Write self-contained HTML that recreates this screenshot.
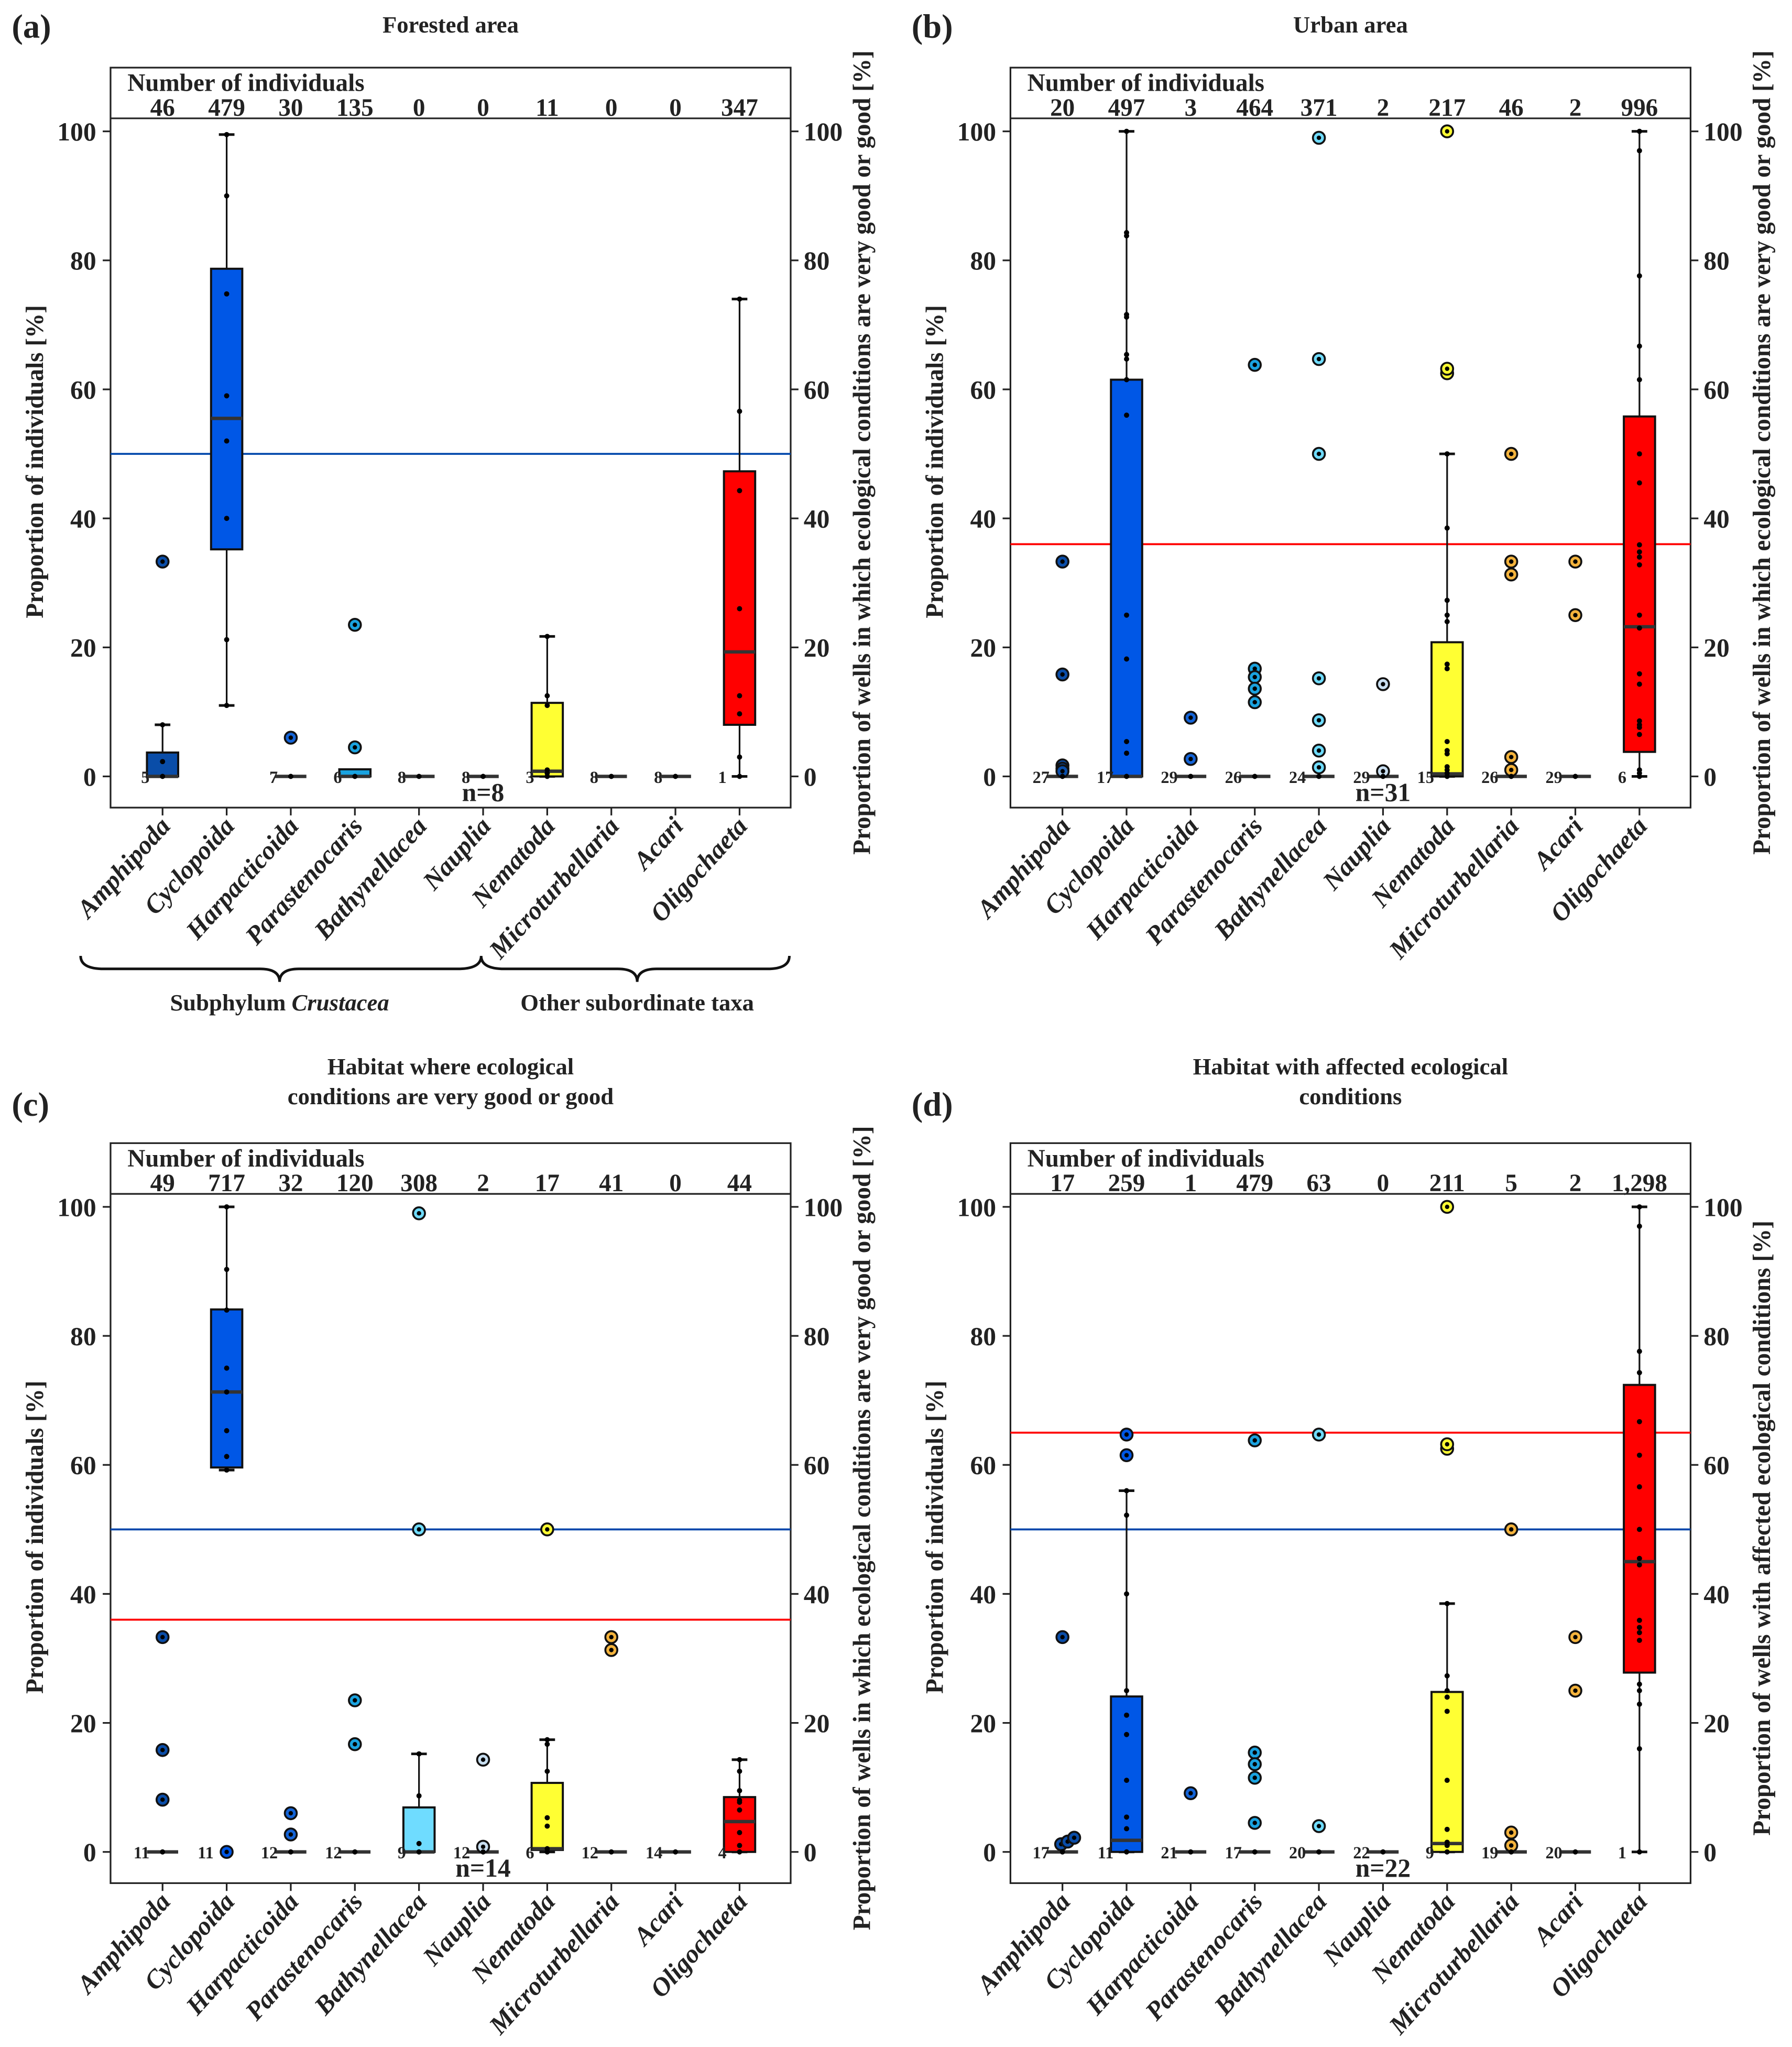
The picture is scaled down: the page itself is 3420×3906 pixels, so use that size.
<!DOCTYPE html>
<html><head><meta charset="utf-8"><style>
html,body{margin:0;padding:0;background:#fff}
svg{display:block}
text{font-family:"Liberation Serif","Times New Roman",serif;font-weight:bold;fill:#222}
</style></head><body>
<svg id="fig" xmlns="http://www.w3.org/2000/svg" width="3420" height="3906" viewBox="0 0 1378 1574" preserveAspectRatio="none"></svg>
<script>
const categories=["Amphipoda","Cyclopoida","Harpacticoida","Parastenocaris","Bathynellacea","Nauplia","Nematoda","Microturbellaria","Acari","Oligochaeta"];
const colors=["#0a4da8","#0057e6","#1464d8","#1aa3e0","#6fdcff","#c8def0","#ffff33","#f4b33c","#f4b33c","#ff0000"];
const yTicks=[0,20,40,60,80,100];

// Panel A: Forested area
const countsA=["46","479","30","135","0","0","11","0","0","347"];
const q1A=[0,35.2,0,0,0,0,0,0,0,8];
const medA=[0,55.5,0,0,0,0,0.8,0,0,19.3];
const q3A=[3.7,78.7,0,1.1,0,0,11.4,0,0,47.3];
const loA=[0,11,0,0,0,0,0,0,0,0];
const hiA=[8,99.5,0,0,0,0,21.7,0,0,74];
const dotsA=[[0,2.3,8],[11,21.2,40,52,59,74.8,90,99.5],[0],[0],[0],[0],[0,0.5,1,11,12.5,21.7],[0],[0],[0,3,9.7,12.5,26,44.3,56.6,74]];
const outA=[[33.3],[],[6],[4.5,23.5],[],[],[],[],[],[]];
const zeroA=["5","","7","6","8","8","3","8","8","1"];
const linesA=[{v:50,c:"#0047ab"}];

// Panel B: Urban area
const countsB=["20","497","3","464","371","2","217","46","2","996"];
const q1B=[0,0,0,0,0,0,0,0,0,3.8];
const medB=[0,0,0,0,0,0,0.4,0,0,23.2];
const q3B=[0,61.5,0,0,0,0,20.8,0,0,55.8];
const loB=[0,0,0,0,0,0,0,0,0,0];
const hiB=[0,100,0,0,0,0,50,0,0,100];
const dotsB=[[0],[0,3.6,5.4,18.2,25,56,61.5,64.7,65.4,71.2,71.6,83.8,84.3,100],[0],[0],[0],[0],[0,0.5,1,1.5,3.5,4,5.4,16.7,17.4,24,25,27.3,38.5,50],[0],[0],[0,0.5,1,6.5,7.6,8,8.6,14.3,15.9,23,25,32.8,34,34.8,35.9,45.5,50,61.5,66.7,77.6,97,100]];
const outB=[[33.3,15.8,1.7,1.2,0.8],[],[9.1,2.7],[63.8,16.7,15.4,13.6,11.5],[99,64.7,50,15.2,8.7,4,1.4],[14.3,0.8],[62.5,63.2,100],[50,33.3,31.3,3,1],[33.3,25],[]];
const zeroB=["27","17","29","26","24","29","15","26","29","6"];
const linesB=[{v:36,c:"#ff0000"}];

// Panel C: very good / good
const countsC=["49","717","32","120","308","2","17","41","0","44"];
const q1C=[0,59.6,0,0,0,0,0.3,0,0,0];
const medC=[0,71.3,0,0,0,0,0.5,0,0,4.7];
const q3C=[0,84.1,0,0,6.9,0,10.7,0,0,8.5];
const loC=[0,59.2,0,0,0,0,0,0,0,0];
const hiC=[0,100,0,0,15.2,0,17.4,0,0,14.3];
const dotsC=[[0],[59.2,61.3,65.3,71.3,75,84,90.3,100],[0],[0],[0,1.3,8.7,15.2],[0],[0,0.5,4,5.3,12.5,16.7,17.4],[0],[0],[0,1,3,6.5,7.7,8,9.5,12.5,14.3]];
const outC=[[33.3,15.8,8.1],[0],[6,2.7],[23.5,16.7],[99,50],[14.3,0.8],[50],[33.3,31.3],[],[]];
const zeroC=["11","11","12","12","9","12","6","12","14","4"];
const linesC=[{v:50,c:"#0047ab"},{v:36,c:"#ff0000"}];

// Panel D: affected
const countsD=["17","259","1","479","63","0","211","5","2","1,298"];
const q1D=[0,0,0,0,0,0,0,0,0,27.8];
const medD=[0,1.8,0,0,0,0,1.3,0,0,45];
const q3D=[0,24.1,0,0,0,0,24.8,0,0,72.4];
const loD=[0,0,0,0,0,0,0,0,0,0];
const hiD=[0,56,0,0,0,0,38.5,0,0,100];
const dotsD=[[0],[0,3.6,5.4,11.1,18.2,21.2,25,40,52.2,56],[0],[0],[0],[0],[0,1,1.5,3.5,11.1,21.8,24,25,27.3,38.5],[0],[0],[0,16,22.9,25,26,32.8,34,34.8,35.9,44.5,45.5,50,56.6,61.5,66.7,74.3,77.6,97,100]];
const outD=[[33.3,1.2,1.6,2.2],[61.5,64.7],[9.1],[63.8,15.4,13.6,11.5,4.5],[64.7,4],[],[62.5,63.2,100],[50,3,1],[33.3,25],[]];
const zeroD=["17","11","21","17","20","22","9","19","20","1"];
const linesD=[{v:65,c:"#ff0000"},{v:50,c:"#0047ab"}];

const NS="http://www.w3.org/2000/svg";
const svg=document.getElementById("fig");
function mk(tag,attrs,parent,txt){const e=document.createElementNS(NS,tag);for(const k in attrs)e.setAttribute(k,attrs[k]);if(txt!==undefined)e.textContent=txt;(parent||svg).appendChild(e);return e;}

const panels=[
 {id:"a",ox:0,oy:0,title:["Forested area"],counts:countsA,q1:q1A,med:medA,q3:q3A,lo:loA,hi:hiA,dots:dotsA,out:outA,zero:zeroA,lines:linesA,n:"n=8",rl:"Proportion of wells in which ecological conditions are very good or good [%]"},
 {id:"b",ox:692,oy:0,title:["Urban area"],counts:countsB,q1:q1B,med:medB,q3:q3B,lo:loB,hi:hiB,dots:dotsB,out:outB,zero:zeroB,lines:linesB,n:"n=31",rl:"Proportion of wells in which ecological conditions are very good or good [%]"},
 {id:"c",ox:0,oy:827,title:["Habitat where ecological","conditions are very good or good"],counts:countsC,q1:q1C,med:medC,q3:q3C,lo:loC,hi:hiC,dots:dotsC,out:outC,zero:zeroC,lines:linesC,n:"n=14",rl:"Proportion of wells in which ecological conditions are very good or good [%]"},
 {id:"d",ox:692,oy:827,title:["Habitat with affected ecological","conditions"],counts:countsD,q1:q1D,med:medD,q3:q3D,lo:loD,hi:hiD,dots:dotsD,out:outD,zero:zeroD,lines:linesD,n:"n=22",rl:"Proportion of wells with affected ecological conditions [%]"}
];

panels.forEach(p=>{
 const g=mk("g",{});
 
 
 const L=85+p.ox,R=608+p.ox,T=52+p.oy,H=91+p.oy,B=621+p.oy;
 const y=v=>597+p.oy-v*4.96;
 const x=i=>125+p.ox+49.3*i;
 const pl=mk("text",{x:9+p.ox,y:(p.title.length>1?31:29)+p.oy,"font-size":26},g,"("+p.id+")");
 
 const tcx=(L+R)/2;
 p.title.forEach((t,k)=>{
  const ty=p.title.length>1?(p.oy-1+k*23):(p.oy+25);
  const te=mk("text",{x:tcx,y:ty,"font-size":18,"text-anchor":"middle"},g,t);
  });
 const fr=mk("rect",{x:L,y:T,width:R-L,height:B-T,fill:"none",stroke:"#222","stroke-width":1.3},g);
 
 const hl=mk("line",{x1:L,x2:R,y1:H,y2:H,stroke:"#222","stroke-width":1.3},g);
 
 const nh=mk("text",{x:L+13,y:H-21,"font-size":19},g,"Number of individuals");
 
 p.counts.forEach((c,i)=>{const t=mk("text",{x:x(i),y:H-2,"font-size":19,"text-anchor":"middle"},g,c);
  });
 yTicks.forEach(v=>{
  mk("line",{x1:L-6,x2:L,y1:y(v),y2:y(v),stroke:"#222","stroke-width":1.3},g);
  mk("line",{x1:R,x2:R+6,y1:y(v),y2:y(v),stroke:"#222","stroke-width":1.3},g);
  const lt=mk("text",{x:L-11,y:y(v)+7,"font-size":20,"text-anchor":"end"},g,v);
  
  const rt=mk("text",{x:R+10,y:y(v)+7,"font-size":20},g,v);
  
 });
 const yl=mk("text",{x:0,y:0,"font-size":19,"text-anchor":"middle",transform:`translate(${33+p.ox},${355+p.oy}) rotate(-90)`},g,"Proportion of individuals [%]");
 
 const yr=mk("text",{x:0,y:0,"font-size":19,"text-anchor":"middle",transform:`translate(${669+p.ox},${348+p.oy}) rotate(-90)`},g,p.rl);
 
 p.lines.forEach(l=>{const e=mk("line",{x1:L,x2:R,y1:y(l.v),y2:y(l.v),stroke:l.c,"stroke-width":1.5},g);
  });
 categories.forEach((c,i)=>{
  const cx=x(i),w=24;
  mk("line",{x1:cx,x2:cx,y1:B,y2:B+6,stroke:"#222","stroke-width":1.3},g);
  const xt=mk("text",{x:0,y:0,"font-size":20,"font-style":"italic","text-anchor":"end",transform:`translate(${cx+7},${B+15}) rotate(-48)`},g,c);
  
  if(p.hi[i]>p.lo[i]){
   const wl=mk("line",{x1:cx,x2:cx,y1:y(p.lo[i]),y2:y(p.hi[i]),stroke:"#111","stroke-width":1.3},g);
   
   [p.lo[i],p.hi[i]].forEach(v=>mk("line",{x1:cx-6,x2:cx+6,y1:y(v),y2:y(v),stroke:"#111","stroke-width":2},g));
  }
  if(p.q3[i]>p.q1[i]){
   const bx=mk("rect",{x:cx-w/2,y:y(p.q3[i]),width:w,height:y(p.q1[i])-y(p.q3[i]),fill:colors[i],stroke:"#111","stroke-width":1.6},g);
   
  }
  const md=mk("line",{x1:cx-w/2,x2:cx+w/2,y1:y(p.med[i]),y2:y(p.med[i]),stroke:"#333","stroke-width":2.6},g);
  
  p.out[i].forEach((v,k)=>{
   const ox2=(p.id==="d"&&i===0&&v<5)?(-6+k*5):0;
   const oc=mk("circle",{cx:cx+ox2,cy:y(v),r:4.6,fill:colors[i],stroke:"#111","stroke-width":1.5},g);
   
   mk("circle",{cx:cx+ox2,cy:y(v),r:1.7,fill:"#000"},g);
  });
  p.dots[i].forEach(v=>{const d=mk("circle",{cx:cx,cy:y(v),r:2,fill:"#000"},g);
   });
  if(p.zero[i]){const z=mk("text",{x:cx-10,y:y(0)+5,"font-size":13,"text-anchor":"end"},g,p.zero[i]);
   }
 });
 const nt=mk("text",{x:x(5),y:B-5,"font-size":20,"text-anchor":"middle"},g,p.n);
 
});

const br=mk("path",{d:"M62,735 Q62,745 80,745 L200,745 Q215,745 215,755 Q215,745 230,745 L352,745 Q370,745 370,735 Q370,745 388,745 L475,745 Q490,745 490,755 Q490,745 505,745 L590,745 Q607,745 607,735",fill:"none",stroke:"#111","stroke-width":2});

const g1=mk("text",{x:215,y:777,"font-size":18,"text-anchor":"middle"});

g1.innerHTML='Subphylum <tspan font-style="italic">Crustacea</tspan>';
const g2=mk("text",{x:490,y:777,"font-size":18,"text-anchor":"middle"},svg,"Other subordinate taxa");

</script>
</body></html>
